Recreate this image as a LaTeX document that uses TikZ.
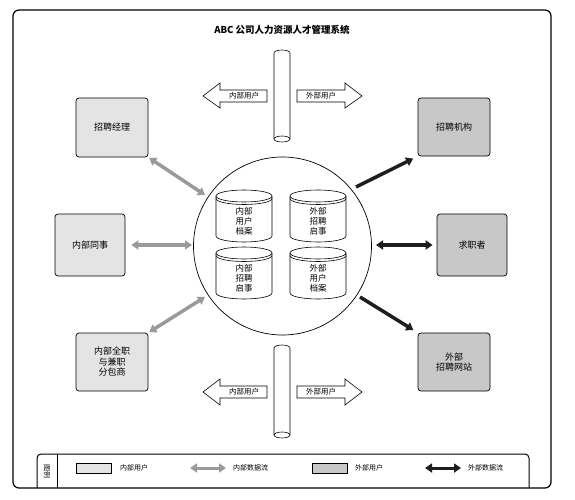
\documentclass[tikz,border=0pt]{standalone}
\usepackage{fontspec}
\setmainfont{Noto Sans CJK SC}
\usetikzlibrary{arrows.meta,calc}
\definecolor{lightbox}{HTML}{E4E4E4}
\definecolor{darkbox}{HTML}{C8C8C8}
\definecolor{grayflow}{HTML}{9A9A9A}
\definecolor{blackflow}{HTML}{1E1E1E}
\newcommand\dbcyl[5]{%
  \path[draw, line width=0.6pt, fill=white] ({#2-28},{#3+6}) -- ({#2-28},{#4-6})
    .. controls ({#2-28},{#4-2.69}) and ({#2-15.46},{#4}) .. ({#2},{#4})
    .. controls ({#2+15.46},{#4}) and ({#2+28},{#4-2.69}) .. ({#2+28},{#4-6})
    -- ({#2+28},{#3+6});
  \draw[line width=0.6pt] ({#2},{#3+6}) ellipse [x radius=28, y radius=6];
  \draw[line width=0.6pt] ({#2-28},{#3+8.5})
    .. controls ({#2-28},{#3+11.81}) and ({#2-15.46},{#3+14.5}) .. ({#2},{#3+14.5})
    .. controls ({#2+15.46},{#3+14.5}) and ({#2+28},{#3+11.81}) .. ({#2+28},{#3+8.5});
  \node[cyltext] (#1) at (#2,{(#3+#4)/2+5}) {#5};
}
\newcommand\dbpipe[3]{%
  \path[draw, line width=0.6pt, fill=white] ({282-8},{#3-3}) -- ({282-8},{#2+3})
    .. controls ({282-8},{#2+1.34}) and ({282-4.42},{#2}) .. (282,{#2})
    .. controls ({282+4.42},{#2}) and ({282+8},{#2+1.34}) .. ({282+8},{#2+3})
    -- ({282+8},{#3-3});
  \draw[line width=0.6pt] (282,{#3-3}) ellipse [x radius=8, y radius=3];
  \coordinate (#1) at (282,{(#2+#3)/2});
}
\begin{document}
\begin{tikzpicture}[x=1pt,y=-1pt,
  box/.style={draw, rounded corners=3pt, line width=0.7pt, align=center,
    font=\fontsize{9}{10.5}\selectfont, inner sep=0pt},
  inbox/.style={box, fill=lightbox},
  exbox/.style={box, fill=darkbox},
  cyltext/.style={align=center, font=\fontsize{8.5}{10}\selectfont, inner sep=0pt},
  gflow/.style={draw=grayflow, line width=3.5pt,
    {Triangle[length=7pt,width=9pt]}-{Triangle[length=7pt,width=9pt]}},
  bflow/.style={draw=blackflow, line width=3.5pt, -{Triangle[length=7pt,width=9pt]}},
  bflowd/.style={draw=blackflow, line width=3.5pt,
    {Triangle[length=7pt,width=9pt]}-{Triangle[length=7pt,width=9pt]}},
  blockarrow/.style={draw, line width=0.6pt, fill=white},
  smalltext/.style={font=\fontsize{7.5}{9}\selectfont, inner sep=0pt},
  legtext/.style={font=\fontsize{7}{8}\selectfont, inner sep=0pt, anchor=west},
]
\useasboundingbox (0,0) rectangle (575,500);
% outer frame
\draw[line width=1.2pt, rounded corners=6pt] (13,10) rectangle (551,488);
\node[font=\bfseries\fontsize{9.5}{11}\selectfont] (title) at (282,30) {ABC 公司人力资源人才管理系统};

% pipes and block arrows
\dbpipe{ptop}{50}{142}
\dbpipe{pbot}{345}{438}
\draw[blockarrow] (203,96) -- (220,83) -- (220,90) -- (267,90) -- (267,102) -- (220,102) -- (220,108) -- cycle;
\node[smalltext] (tl) at (244,96) {内部用户};
\draw[blockarrow] (362,96) -- (345,83) -- (345,90) -- (297,90) -- (297,102) -- (345,102) -- (345,108) -- cycle;
\node[smalltext] (tr) at (321,96) {外部用户};
\draw[blockarrow] (203,392) -- (220,379) -- (220,386) -- (267,386) -- (267,398) -- (220,398) -- (220,405) -- cycle;
\node[smalltext] (bl) at (244,392) {内部用户};
\draw[blockarrow] (362,392) -- (345,379) -- (345,386) -- (297,386) -- (297,398) -- (345,398) -- (345,405) -- cycle;
\node[smalltext] (br) at (321,392) {外部用户};

% hub
\node[draw, circle, minimum size=178pt, line width=0.7pt, inner sep=0pt] (hub) at (282.5,246) {};
\dbcyl{d1}{244}{190}{242}{内部\\用户\\档案}
\dbcyl{d2}{318}{190}{242}{外部\\招聘\\启事}
\dbcyl{d3}{244}{247}{299}{内部\\招聘\\启事}
\dbcyl{d4}{318}{247}{299}{外部\\用户\\档案}

% boxes
\node[inbox, minimum width=72pt, minimum height=59pt] (mgr) at (112,127.5) {招聘经理};
\node[inbox, minimum width=70pt, minimum height=62pt] (col) at (90,245) {内部同事};
\node[inbox, minimum width=72pt, minimum height=58pt] (sub) at (112,362) {内部全职\\与兼职\\分包商};
\node[exbox, minimum width=72pt, minimum height=58pt] (agc) at (454,127) {招聘机构};
\node[exbox, minimum width=70pt, minimum height=62pt] (skr) at (472,245) {求职者};
\node[exbox, minimum width=72pt, minimum height=58pt] (web) at (454,362) {外部\\招聘网站};

% flows
\coordinate (c1) at (205,195);
\coordinate (c2) at (192,245);
\coordinate (c3) at (205,297);
\coordinate (c4) at (356,187);
\coordinate (c5) at (376,245);
\coordinate (c6) at (360,297);
\draw[gflow, shorten >=1pt] (c1) -- (mgr.south east);
\draw[gflow, shorten >=6pt] (c2) -- (col.east);
\draw[gflow, shorten >=1pt] (c3) -- (sub.north east);
\draw[bflow, shorten >=5pt] (c4) -- (agc.south west);
\draw[bflowd, shorten >=4pt] (c5) -- (skr.west);
\draw[bflow, shorten >=5pt] (c6) -- (web.north west);

% legend
\draw[line width=1pt, rounded corners=4pt] (37,488) -- (37,454) -- (529,454) -- (529,488);
\draw[line width=0.8pt] (57,454) -- (57,488);
\node[font=\fontsize{7}{8}\selectfont, rotate=-90, inner sep=0pt] (lgt) at (47,471) {图例};
\node[inbox, rounded corners=0pt, minimum width=35pt, minimum height=10pt] (lg1) at (94,468) {};
\node[legtext] (lt1) at (120,468) {内部用户};
\coordinate (la1) at (190,468);
\coordinate (la2) at (226,468);
\draw[gflow, line width=3pt] (la1) -- (la2);
\node[legtext] (lt2) at (233,468) {内部数据流};
\node[exbox, rounded corners=0pt, minimum width=35pt, minimum height=10pt] (lg2) at (329.5,468) {};
\node[legtext] (lt3) at (355,468) {外部用户};
\coordinate (lb1) at (425,468);
\coordinate (lb2) at (461,468);
\draw[bflowd, line width=3pt] (lb1) -- (lb2);
\node[legtext] (lt4) at (468,468) {外部数据流};
\end{tikzpicture}
\end{document}
